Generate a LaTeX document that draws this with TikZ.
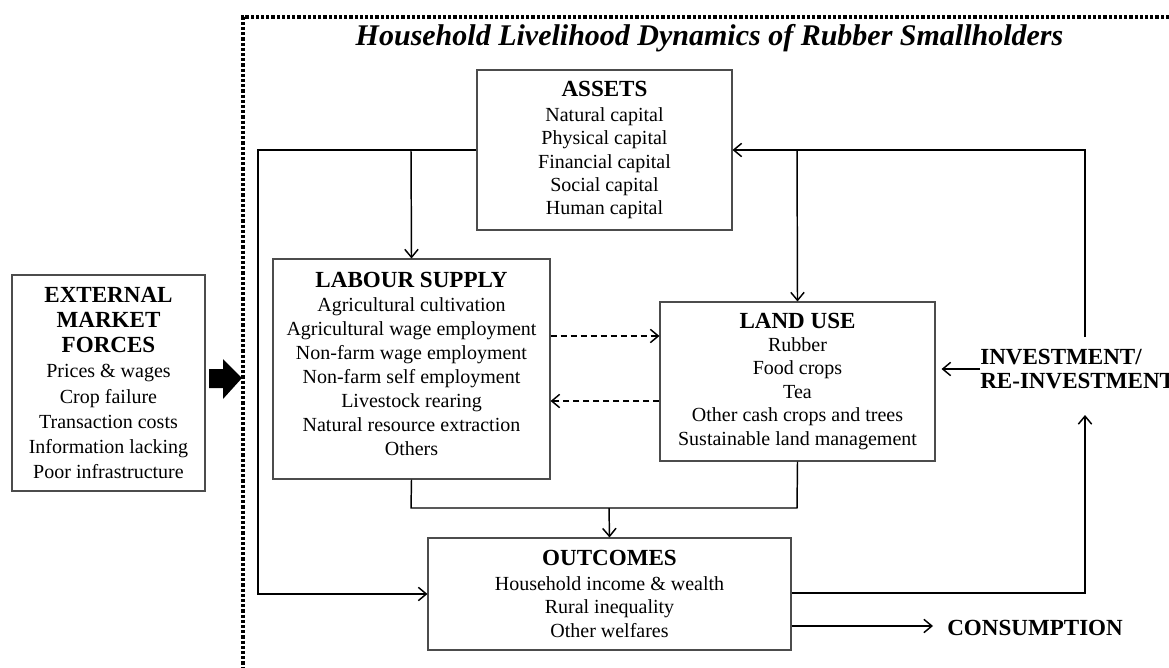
\documentclass[tikz,border=0pt]{standalone}
\usepackage{fontspec}
\setmainfont{Liberation Serif}
\usetikzlibrary{arrows.meta}
\begin{document}
\begin{tikzpicture}[x=0.75pt,y=-0.75pt,
  box/.style={draw=black!70,line width=0.8pt,inner sep=0pt,align=center,
    font=\fontsize{15}{17.6}\selectfont},
  conn/.style={line width=1.1pt,-{Straight Barb[length=6pt,width=10pt,line width=1.1pt]}},
  plain/.style={line width=1.1pt},
  dashconn/.style={conn,dash pattern=on 4.5pt off 3pt},
  dotline/.style={line width=2.4pt,dash pattern=on 2.4pt off 1.5pt},
  lbl/.style={inner sep=0pt,font=\fontsize{17.3}{18.2}\selectfont\bfseries}]
\useasboundingbox (0,0) rectangle (1169,667);
\newcommand{\hd}[1]{{\fontsize{17.3}{18}\selectfont\bfseries #1}}

% dotted frame
\draw[dotline] (1169,17) -- (243,17) -- (243,667);
\node[inner sep=0pt,font=\fontsize{22.5}{26}\selectfont\bfseries\itshape] (title) at (709.5,38)
  {Household Livelihood Dynamics of Rubber Smallholders};

% boxes
\node[box,minimum width=191.25pt,minimum height=120pt,text depth=3pt] (assets) at (604.5,150)
  {\hd{ASSETS}\\[1pt] Natural capital\\ Physical capital\\ Financial capital\\ Social capital\\ Human capital};
\node[box,minimum width=207.75pt,minimum height=165pt,text depth=7.5pt,
  font=\fontsize{15}{18}\selectfont] (labour) at (411.5,369)
  {\hd{LABOUR SUPPLY}\\ Agricultural cultivation\\ Agricultural wage employment\\ Non-farm wage employment\\ Non-farm self employment\\ Livestock rearing\\ Natural resource extraction\\ Others};
\node[box,minimum width=206.25pt,minimum height=119.25pt] (land) at (797.5,381.5)
  {\hd{LAND USE}\\[-0.8pt] Rubber\\ Food crops\\ Tea\\ Other cash crops and trees\\ Sustainable land management};
\node[box,minimum width=272.25pt,minimum height=84pt] (out) at (609.5,594)
  {\hd{OUTCOMES}\\[1pt] Household income \& wealth\\ Rural inequality\\ Other welfares};
\node[box,minimum width=144.75pt,minimum height=162pt,
  font=\fontsize{15}{18.8}\selectfont] (ext) at (108.5,383)
  {\hd{EXTERNAL}\\ \hd{MARKET}\\ \hd{FORCES}\\ Prices \& wages\\ Crop failure\\ Transaction costs\\ Information lacking\\ Poor infrastructure};

% side labels
\node[lbl,anchor=west,align=left] (inv) at (980,369) {INVESTMENT/\\RE-INVESTMENT};
\node[lbl,anchor=west] (cons) at (947,628) {CONSUMPTION};

% big arrow from external forces
\fill (209,369) -- (223,369) -- (223,359) -- (242,378) -- (223,399) -- (223,388) -- (209,388) -- cycle;

% coordinates
\coordinate (jL) at (411,150);
\coordinate (jR) at (797,150);
\coordinate (invTop) at (1085,337);
\coordinate (invBot) at (1085,415);
\coordinate (jB) at (609,508);

% assets -> labour, outcomes
\draw[conn] (assets.west |- 0,150) -- (258,150) -- (258,594) -- (out.west);
\draw[conn] (jL) -- (labour.north);
% investment loop
\draw[conn] (invTop) -- (1085,150) -- (assets.east |- 0,150);
\draw[conn] (jR) -- (land.north);
\draw[conn] (out.east |- 0,593) -- (1085,593) -- (invBot);
\draw[conn,shorten >=4.5pt] (inv.west) -- (land.east |- inv.west);
% labour & land -> outcomes
\draw[plain] (labour.south) -- (411,508) -- (797,508) -- (land.south);
\draw[conn] (jB) -- (out.north);
% consumption
\draw[conn] (out.east |- 0,626) -- (933,626);
% dashed exchanges
\draw[dashconn] (labour.east |- 0,336) -- (land.west |- 0,336);
\draw[dashconn] (land.west |- 0,401) -- (labour.east |- 0,401);
\end{tikzpicture}
\end{document}
